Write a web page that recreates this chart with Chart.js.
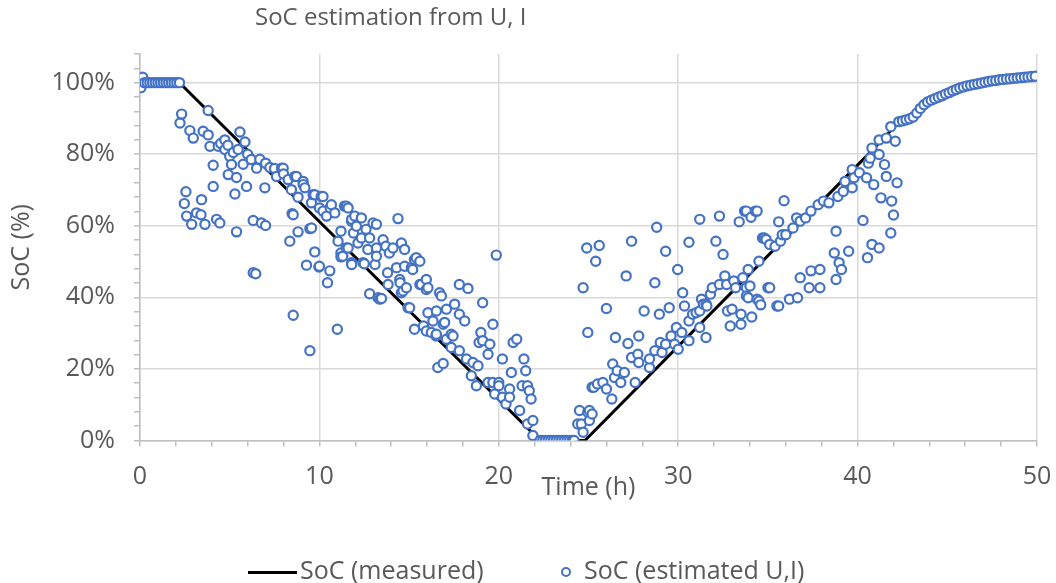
<!DOCTYPE html>
<html>
<head>
<meta charset="utf-8">
<script src="https://cdn.jsdelivr.net/npm/chart.js@4.4.1/dist/chart.umd.min.js"></script>
<style>
  body { margin: 0; background: #fff; }
  #wrap { position: relative; width: 1056px; height: 583px; font-family: "Open Sans", sans-serif; color: #595959; }
  #title { position: absolute; left: 255px; top: -1px; font-size: 24px; white-space: nowrap; }
  .leg { position: absolute; top: 553px; font-size: 25px; white-space: nowrap; line-height: 32px; }
  .leg .line { display: inline-block; width: 49px; height: 3px; background: #000; vertical-align: middle; margin-right: 3px; }
  .leg .dot { display: inline-block; width: 6px; height: 6px; border: 2px solid #4472C4; border-radius: 50%; vertical-align: middle; margin-right: 13px; }
</style>
</head>
<body>
<div id="wrap">
  <canvas id="socChart" width="1056" height="583"></canvas>
  <div id="title">SoC estimation from U, I</div>
  <div class="leg" style="left:248px"><span class="line"></span>SoC (measured)</div>
  <div class="leg" style="left:561px"><span class="dot"></span>SoC (estimated U,I)</div>
</div>
<script>
// Measured SoC (black line)
const measTime = [0, 2.2, 22.3, 24.8, 40.7, 41.5, 42.3, 43.0, 43.5, 44.0, 44.6, 45.3, 46.0, 46.8, 47.6, 48.4, 49.2, 50];
const measSoc  = [100, 100, 0, 0, 80.5, 84.8, 88.8, 90.2, 92.6, 94.8, 96.1, 97.7, 98.9, 99.8, 100.5, 101.0, 101.4, 101.8];

// Estimated SoC from U, I (blue circles)
const estTime = [
  0.05, 0.15, 0.25, 0.4, 0.55, 0.7, 0.85, 1.0, 1.15, 1.3, 1.45, 1.6, 1.75, 1.9, 2.05, 2.2,
  2.23, 2.32, 2.47, 2.56, 2.6, 2.78, 2.88, 2.97, 3.15, 3.4,
  3.43, 3.52, 3.62, 3.8, 3.8, 3.9, 4.08, 4.08, 4.27, 4.36,
  4.45, 4.5, 4.73, 4.73, 4.9, 4.92, 5.0, 5.1, 5.2, 5.29,
  5.38, 5.38, 5.47, 5.57, 5.75, 5.85, 5.94, 6.0, 6.2, 6.31,
  6.31, 6.45, 6.5, 6.68, 6.77, 6.96, 7.0, 7.0, 7.24, 7.5,
  7.61, 7.89, 7.98, 8.0, 8.26, 8.35, 8.44, 8.48, 8.54, 8.54,
  8.63, 8.72, 8.81, 8.81, 9.09, 9.1, 9.19, 9.28, 9.47, 9.47,
  9.56, 9.56, 9.65, 9.74, 9.74, 9.97, 10.0, 10.0, 10.1, 10.2,
  10.2, 10.4, 10.45, 10.58, 10.6, 10.67, 10.86, 11.0, 11.04, 11.2,
  11.2, 11.2, 11.3, 11.4, 11.5, 11.5, 11.6, 11.6, 11.79, 11.8,
  11.8, 11.8, 11.9, 11.97, 12.06, 12.15, 12.34, 12.34, 12.43, 12.5,
  12.6, 12.7, 12.8, 12.8, 12.99, 13.1, 13.18, 13.18, 13.18, 13.27,
  13.36, 13.46, 13.55, 13.7, 13.8, 13.83, 13.9, 14.1, 14.3, 14.38,
  14.48, 14.5, 14.57, 14.57, 14.66, 14.75, 14.75, 14.85, 14.94, 15.03,
  15.13, 15.2, 15.3, 15.3, 15.4, 15.6, 15.6, 15.68, 15.8, 15.96,
  15.96, 15.96, 16.05, 16.05, 16.24, 16.33, 16.5, 16.52, 16.52, 16.6,
  16.7, 16.8, 16.9, 16.9, 16.98, 17.08, 17.08, 17.35, 17.35, 17.45,
  17.54, 17.8, 17.8, 17.8, 18.1, 18.2, 18.28, 18.47, 18.56, 18.75,
  18.84, 18.9, 19.0, 19.1, 19.1, 19.4, 19.4, 19.5, 19.67, 19.67,
  19.77, 19.86, 20.0, 20.0, 20.2, 20.2, 20.4, 20.6, 20.6, 20.7,
  20.8, 21.0, 21.16, 21.3, 21.4, 21.5, 21.6, 21.6, 21.7, 21.8,
  21.9, 21.9, 22.3,
  22.45, 22.6, 22.75, 22.9, 23.05, 23.2, 23.35, 23.5, 23.65, 23.8, 23.95, 24.1, 24.2,
  24.4, 24.5, 24.6, 24.7, 24.7, 24.9, 24.96, 24.96, 25.05, 25.05,
  25.2, 25.2, 25.3, 25.4, 25.5, 25.6, 25.8, 26.0, 26.0, 26.3,
  26.35, 26.45, 26.5, 26.6, 26.8, 27.0, 27.1, 27.2, 27.4, 27.4,
  27.6, 27.75, 27.8, 27.8, 28.1, 28.4, 28.4, 28.7, 28.7, 28.8,
  28.95, 29.0, 29.1, 29.3, 29.3, 29.5, 29.6, 29.8, 29.9, 29.97,
  30.0, 30.2, 30.25, 30.35, 30.6, 30.6, 30.6, 30.8, 31.0, 31.2,
  31.2, 31.2, 31.3, 31.4, 31.55, 31.55, 31.6, 31.8, 31.9, 32.1,
  32.3, 32.3, 32.5, 32.6, 32.7, 32.75, 32.9, 33.0, 33.1, 33.2,
  33.4, 33.5, 33.5, 33.6, 33.7, 33.8, 33.8, 33.8, 33.9, 33.9,
  34.0, 34.06, 34.1, 34.3, 34.4, 34.4, 34.5, 34.5, 34.6, 34.7,
  34.8, 34.9, 35.0, 35.1, 35.1, 35.4, 35.5, 35.6, 35.6, 35.7,
  35.8, 35.9, 36.0, 36.2, 36.4, 36.6, 36.65, 36.8, 36.8, 37.1,
  37.3, 37.4, 37.4, 37.8, 37.9, 37.9, 38.1, 38.4, 38.7, 38.8,
  38.8, 38.9, 38.97, 39.1, 39.2, 39.3, 39.5, 39.7, 39.7, 39.8,
  40.1, 40.3, 40.5, 40.55, 40.6, 40.7, 40.8, 40.8, 40.9, 41.2,
  41.2, 41.2, 41.3, 41.5, 41.6, 41.6, 41.85, 41.85, 41.9, 42.0,
  42.1, 42.2, 42.3,
  42.5, 42.7, 42.9, 43.1, 43.3, 43.5, 43.7, 43.9, 44.1, 44.3,
  44.5, 44.7, 44.9, 45.1, 45.3, 45.5, 45.7, 45.9, 46.1, 46.3,
  46.5, 46.7, 46.9, 47.1, 47.3, 47.5, 47.7, 47.9, 48.1, 48.3,
  48.5, 48.7, 48.9, 49.1, 49.3, 49.5, 49.7, 49.9
];
const estSoc = [
  98.6, 101.5, 100, 100, 100, 100, 100, 100, 100, 100, 100, 100, 100, 100, 100, 100,
  88.7, 91.2, 66.2, 69.5, 62.7, 86.6, 60.4, 84.5, 63.6, 63.1,
  67.3, 86.4, 60.4, 92.2, 85.4, 82.2, 76.9, 71.0, 61.8, 82.2,
  60.8, 83.0, 84.0, 81.3, 82.5, 74.3, 79.4, 77.1, 80.5, 68.9,
  73.5, 58.3, 81.3, 86.2, 77.2, 83.4, 71.0, 80.0, 78.5, 61.5,
  46.9, 46.6, 76.1, 78.6, 60.8, 70.6, 60.1, 77.5, 76.3, 76.0,
  73.8, 76.1, 76.1, 74.5, 72.9, 55.7, 70.1, 63.4, 63.1, 35.0,
  73.8, 73.8, 68.0, 58.3, 72.4, 71.5, 70.6, 49.0, 59.2, 25.1,
  66.4, 59.4, 68.7, 68.7, 52.7, 48.5, 65.0, 48.7, 68.2, 68.2,
  64.1, 62.7, 44.1, 47.4, 65.0, 65.9, 63.6, 31.1, 55.7, 58.5,
  52.4, 51.3, 51.5, 65.5, 65.5, 53.8, 65.0, 53.8, 61.3, 61.8,
  49.7, 49.2, 58.0, 62.7, 59.9, 55.2, 62.2, 56.6, 49.7, 49.4,
  59.0, 53.4, 56.6, 41.0, 60.8, 49.2, 60.4, 53.8, 51.5, 39.9,
  39.5, 39.7, 56.1, 54.3, 46.9, 43.6, 52.4, 53.8, 48.3, 62.0,
  45.0, 44.1, 55.2, 41.3, 41.8, 53.4, 48.7, 42.7, 37.1, 37.1,
  48.3, 47.8, 50.6, 31.1, 51.1, 50.1, 43.6, 43.6, 32.0, 45.0,
  42.2, 30.6, 42.7, 35.7, 30.2, 33.4, 29.2, 36.2, 29.7, 20.4,
  41.3, 40.4, 32.5, 21.5, 33.0, 36.7, 28.3, 29.7, 26.0, 29.2,
  38.1, 43.6, 35.3, 25.1, 33.4, 22.8, 42.5, 18.1, 21.8, 15.3,
  20.9, 27.4, 30.2, 38.5, 27.9, 24.1, 16.2, 26.9, 32.5, 16.2,
  13.0, 51.8, 16.2, 15.3, 22.8, 12.1, 10.2, 14.4, 12.1, 19.0,
  27.4, 28.3, 8.4, 15.3, 22.8, 19.5, 15.3, 4.6, 13.9, 11.6,
  5.6, 1.4, 0,
  0, 0, 0, 0, 0, 0, 0, 0, 0, 0, 0, 0, 0,
  4.6, 8.4, 4.6, 2.3, 42.7, 53.8, 7.9, 30.2, 5.6, 8.4,
  7.4, 14.9, 14.9, 50.1, 15.8, 54.5, 16.2, 36.9, 14.4, 11.6,
  21.4, 17.6, 28.8, 19.5, 16.2, 19.0, 46.0, 27.1, 55.7, 23.2,
  16.2, 24.1, 29.2, 21.8, 36.2, 20.4, 22.8, 44.1, 25.1, 59.6,
  35.3, 27.4, 24.6, 52.9, 26.9, 37.1, 29.2, 26.9, 31.6, 47.8,
  25.5, 30.2, 41.3, 37.6, 55.4, 33.4, 27.9, 35.3, 35.7, 61.8,
  36.2, 31.6, 39.5, 38.1, 38.1, 28.8, 37.6, 40.9, 42.7, 55.7,
  62.7, 43.6, 52.0, 46.0, 43.6, 36.2, 32.0, 36.7, 44.6, 42.7,
  61.1, 35.3, 32.5, 45.5, 64.1, 64.1, 42.7, 40.4, 47.8, 39.9,
  43.2, 62.4, 34.5, 64.1, 64.1, 39.5, 50.1, 39.0, 37.9, 56.6,
  56.6, 56.2, 42.7, 54.8, 42.7, 54.3, 37.6, 61.1, 37.6, 55.7,
  57.5, 67.0, 57.5, 39.5, 59.4, 62.2, 39.9, 61.3, 45.5, 62.2,
  42.7, 64.1, 47.4, 65.9, 47.8, 42.7, 66.9, 66.4, 52.4, 58.5,
  45.0, 68.2, 49.7, 47.8, 69.6, 72.4, 52.9, 70.6, 75.7, 73.4,
  74.8, 61.5, 73.4, 51.1, 77.5, 78.9, 81.7, 54.8, 71.5, 79.9,
  84.0, 53.8, 67.8, 77.1, 84.5, 73.8, 87.7, 58.0, 66.9, 63.0,
  83.6, 72.0, 89.1,
  89.3, 89.6, 89.9, 90.4, 91.5, 92.8, 93.8, 94.6, 95.1, 95.5,
  95.9, 96.3, 96.8, 97.2, 97.7, 98.1, 98.5, 98.8, 99.1, 99.3,
  99.5, 99.7, 99.9, 100.1, 100.3, 100.5, 100.6, 100.8, 100.9, 101.0,
  101.1, 101.2, 101.3, 101.4, 101.5, 101.6, 101.7, 101.8
];

const textColor = "#595959";
const gridColor = "#d9d9d9";
const axisColor = "#bfbfbf";
const tickFont = { family: "Open Sans", size: 25 };

let ctx = document.getElementById("socChart").getContext("2d");
let socChart = new Chart(ctx, {
  type: "scatter",
  data: {
    datasets: [
      {
        label: "SoC (measured)",
        data: measTime.map((t, i) => ({ x: t, y: measSoc[i] })),
        showLine: true,
        borderColor: "#000",
        borderWidth: 3,
        pointRadius: 0,
        order: 2,
      },
      {
        label: "SoC (estimated U,I)",
        data: estTime.map((t, i) => ({ x: t, y: estSoc[i] })),
        pointRadius: 4.6,
        pointBorderWidth: 2.2,
        borderColor: "#4472C4",
        backgroundColor: "#ffffff",
        order: 1,
      },
    ],
  },
  options: {
    responsive: false,
    animation: false,
    layout: { padding: { top: 54, right: 19, left: 0, bottom: 0 } },
    plugins: {
      legend: { display: false },
      title: { display: false },
      tooltip: { enabled: false },
    },
    scales: {
      x: {
        type: "linear",
        min: 0,
        max: 50,
        afterFit: (scale) => {
          // fixed axis height, and no extra room for the end labels
          scale.height = 142.5;
          scale.paddingLeft = 0;
          scale.paddingRight = 0;
        },
        ticks: {
          stepSize: 2,
          autoSkip: false,
          maxRotation: 0,
          padding: 15,
          color: textColor,
          font: tickFont,
          callback: (v) => (v % 10 === 0 ? v : ""),
        },
        grid: {
          color: (c) => (c.tick && c.tick.value % 10 === 0 ? gridColor : "rgba(0,0,0,0)"),
          lineWidth: 1.5,
          tickColor: axisColor,
          tickLength: 6,
        },
        border: { color: axisColor, width: 1.5 },
        title: {
          display: true,
          text: "Time (h)",
          color: textColor,
          font: tickFont,
          padding: { bottom: 80 },
        },
      },
      y: {
        min: 0,
        max: 108,
        afterFit: (scale) => { scale.width = 140; },
        ticks: {
          stepSize: 4,
          autoSkip: false,
          padding: 19,
          color: textColor,
          font: tickFont,
          callback: (v) => (v % 20 === 0 ? v + "%" : ""),
        },
        grid: {
          color: (c) => (c.tick && c.tick.value % 20 === 0 ? gridColor : "rgba(0,0,0,0)"),
          lineWidth: 1.5,
          tickColor: axisColor,
          tickLength: 6,
        },
        border: { color: axisColor, width: 1.5 },
        title: {
          display: true,
          text: "SoC (%)",
          color: textColor,
          font: tickFont,
          padding: { top: 7 },
        },
      },
    },
  },
});
</script>
</body>
</html>
